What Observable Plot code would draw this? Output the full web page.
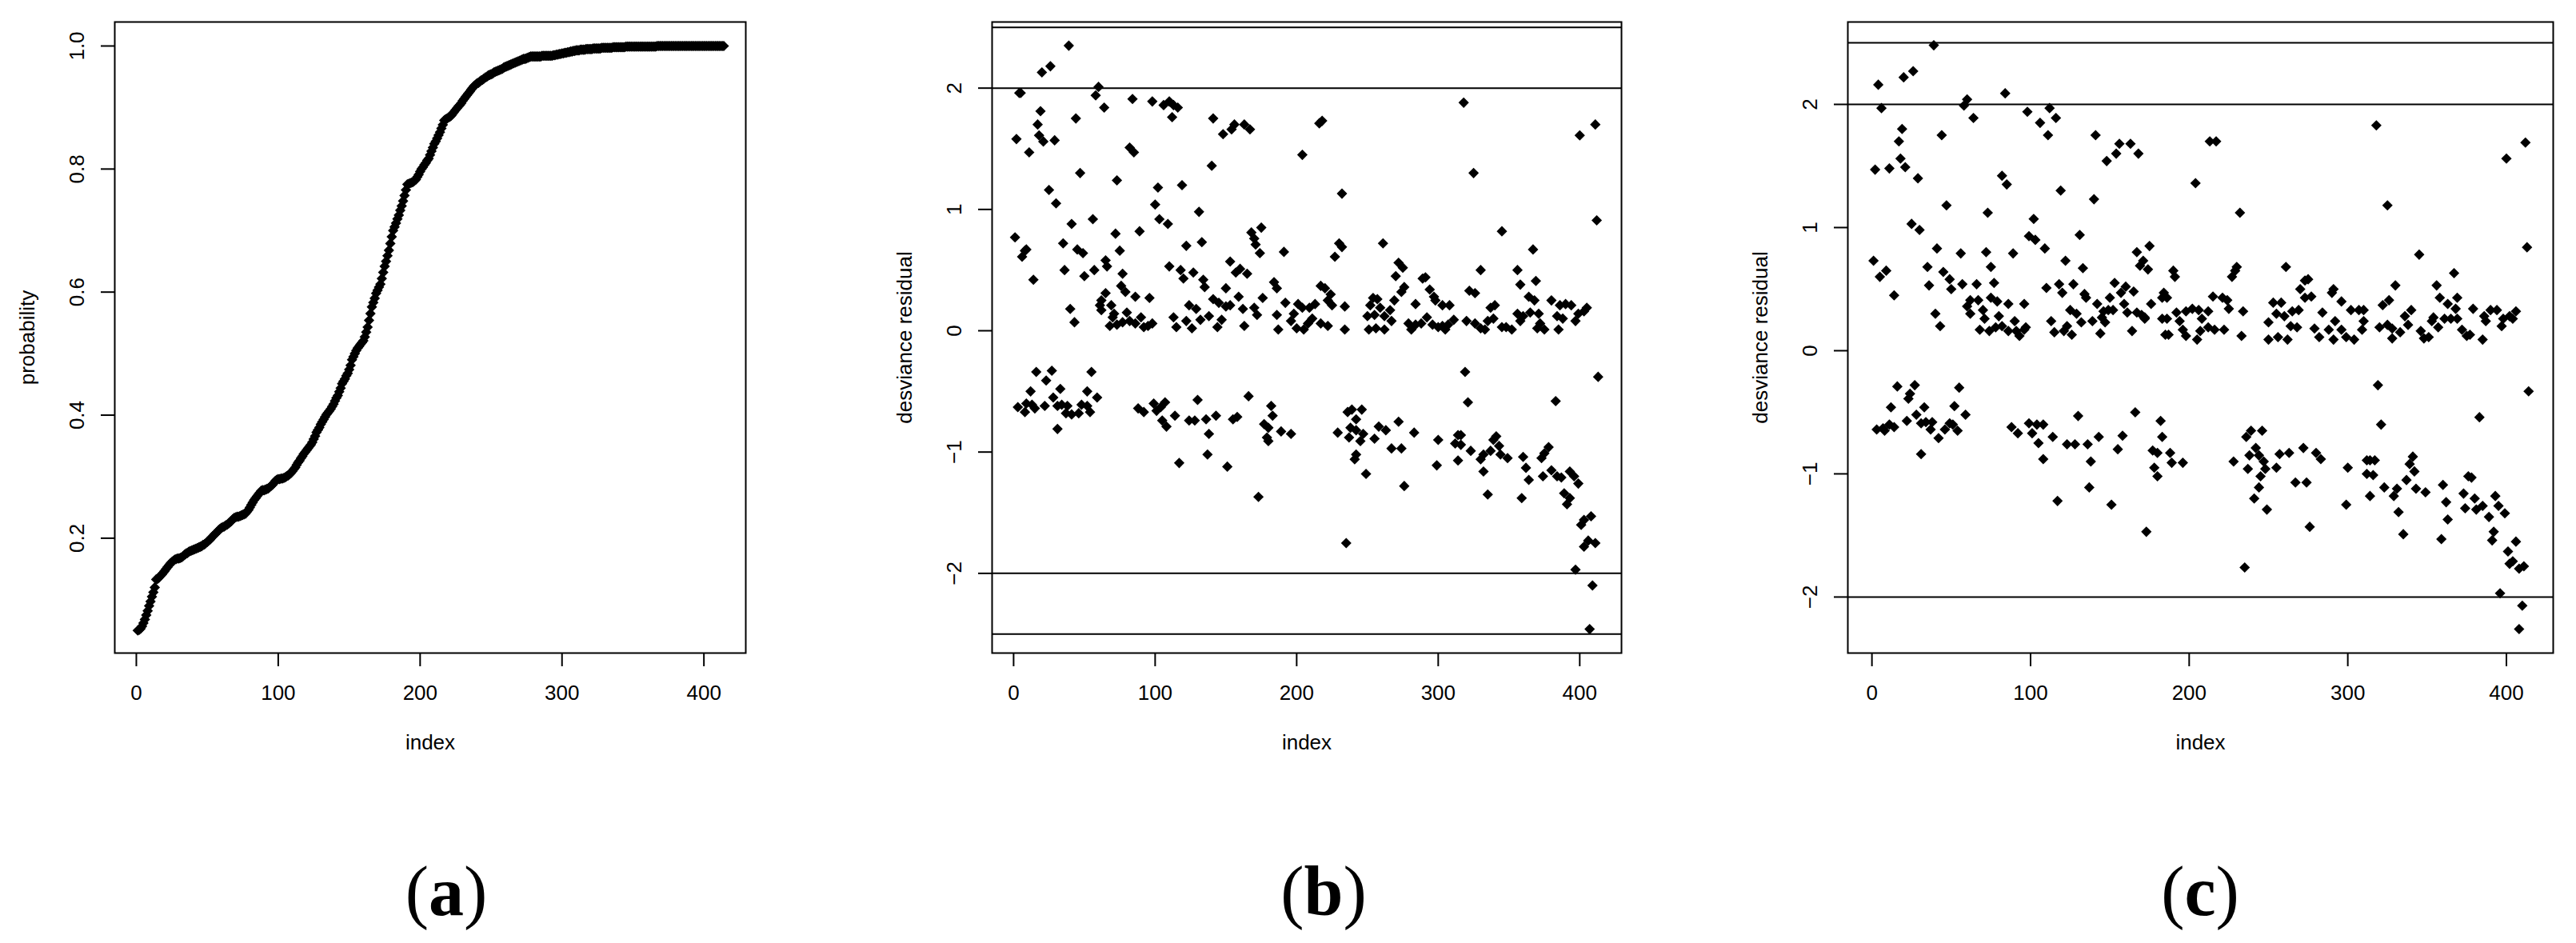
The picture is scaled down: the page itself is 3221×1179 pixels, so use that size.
<!DOCTYPE html>
<html><head><meta charset="utf-8">
<script src="https://cdn.jsdelivr.net/npm/d3@7"></script>
<script src="https://cdn.jsdelivr.net/npm/@observablehq/plot@0.6"></script>
<style>
html,body{margin:0;padding:0;background:#fff;}
#root{position:relative;width:3221px;height:1179px;overflow:hidden;background:#fff;}
#root svg{position:absolute;}
</style></head><body><div id="root"></div>
<script>
// ---------- data ----------
const probability = [
0.050,0.051,0.053,0.057,0.062,0.068,0.075,0.082,0.090,0.097,
0.105,0.112,0.120,0.133,0.134,0.136,0.139,0.141,0.144,0.147,
0.150,0.153,0.156,0.159,0.161,0.163,0.165,0.166,0.167,0.167,
0.168,0.169,0.171,0.173,0.175,0.176,0.178,0.179,0.180,0.181,
0.182,0.183,0.184,0.185,0.186,0.187,0.189,0.190,0.192,0.194,
0.196,0.198,0.201,0.203,0.206,0.208,0.210,0.213,0.215,0.217,
0.218,0.219,0.221,0.222,0.224,0.226,0.228,0.231,0.233,0.234,
0.235,0.235,0.236,0.237,0.238,0.239,0.240,0.243,0.246,0.250,
0.254,0.258,0.262,0.265,0.268,0.271,0.274,0.277,0.278,0.278,
0.279,0.280,0.281,0.283,0.285,0.287,0.290,0.293,0.295,0.296,
0.296,0.297,0.297,0.298,0.299,0.301,0.302,0.304,0.306,0.309,
0.312,0.315,0.319,0.323,0.326,0.330,0.333,0.337,0.340,0.343,
0.346,0.349,0.352,0.356,0.361,0.366,0.372,0.376,0.380,0.385,
0.389,0.393,0.397,0.401,0.404,0.407,0.410,0.414,0.418,0.423,
0.428,0.432,0.438,0.444,0.451,0.455,0.459,0.464,0.468,0.474,
0.481,0.490,0.495,0.500,0.505,0.509,0.512,0.515,0.518,0.521,
0.527,0.535,0.543,0.554,0.565,0.576,0.583,0.590,0.598,0.603,
0.608,0.613,0.622,0.632,0.642,0.650,0.659,0.668,0.679,0.690,
0.700,0.706,0.712,0.719,0.725,0.733,0.740,0.748,0.757,0.766,
0.775,0.776,0.777,0.778,0.779,0.781,0.783,0.787,0.791,0.796,
0.800,0.803,0.807,0.810,0.814,0.817,0.823,0.829,0.835,0.841,
0.845,0.850,0.855,0.860,0.866,0.872,0.879,0.881,0.882,0.884,
0.885,0.887,0.890,0.893,0.896,0.899,0.902,0.904,0.907,0.911,
0.914,0.917,0.920,0.923,0.926,0.929,0.932,0.935,0.937,0.939,
0.940,0.942,0.944,0.945,0.947,0.949,0.950,0.952,0.953,0.954,
0.955,0.957,0.958,0.959,0.960,0.961,0.962,0.963,0.965,0.966,
0.967,0.968,0.969,0.970,0.971,0.972,0.973,0.974,0.975,0.976,
0.977,0.978,0.979,0.979,0.980,0.981,0.982,0.983,0.983,0.983,
0.983,0.983,0.983,0.983,0.983,0.984,0.984,0.984,0.984,0.984,
0.984,0.984,0.984,0.985,0.985,0.986,0.986,0.987,0.987,0.988,
0.988,0.989,0.989,0.990,0.990,0.991,0.991,0.992,0.992,0.993,
0.993,0.993,0.994,0.994,0.994,0.994,0.995,0.995,0.995,0.995,
0.995,0.996,0.996,0.996,0.996,0.996,0.996,0.997,0.997,0.997,
0.997,0.997,0.997,0.997,0.997,0.998,0.998,0.998,0.998,0.998,
0.998,0.998,0.998,0.998,0.999,0.999,0.999,0.999,0.999,0.999,
0.999,0.999,0.999,0.999,0.999,0.999,0.999,0.999,0.999,0.999,
0.999,0.999,0.999,0.999,0.999,0.999,1.000,1.000,1.000,1.000,
1.000,1.000,1.000,1.000,1.000,1.000,1.000,1.000,1.000,1.000,
1.000,1.000,1.000,1.000,1.000,1.000,1.000,1.000,1.000,1.000,
1.000,1.000,1.000,1.000,1.000,1.000,1.000,1.000,1.000,1.000,
1.000,1.000,1.000,1.000,1.000,1.000,1.000,1.000,1.000,1.000,
1.000,1.000,1.000,1.000
];

// [index, deviance residual] — model (b)
const residualsB = [
[39,2.35],[26,2.18],[20,2.13],[5,1.96],[4,1.96],[60,2.01],[58,1.94],[84,1.91],[98,1.89],[106,1.86],[110,1.89],[113,1.86],[116,1.84],[112,1.76],
[64,1.84],[19,1.81],[44,1.75],[141,1.75],[148,1.62],[154,1.66],[156,1.70],[163,1.70],[167,1.66],[17,1.70],[18,1.61],[21,1.56],[2,1.58],[29,1.57],
[11,1.47],[82,1.51],[85,1.47],[204,1.45],[140,1.36],[47,1.30],[73,1.24],[102,1.18],[119,1.20],[25,1.16],[30,1.05],[100,1.04],[131,0.98],[41,0.88],
[56,0.92],[103,0.92],[109,0.88],[1,0.77],[8,0.66],[6,0.61],[9,0.67],[14,0.42],[35,0.72],[45,0.67],[49,0.64],[72,0.80],[89,0.82],[75,0.66],[122,0.70],
[133,0.73],[175,0.85],[168,0.81],[170,0.76],[171,0.71],[174,0.64],[191,0.65],[65,0.58],[66,0.53],[36,0.50],[57,0.50],[50,0.45],[77,0.47],[110,0.53],
[118,0.50],[120,0.43],[127,0.48],[153,0.57],[157,0.48],[160,0.51],[165,0.47],[134,0.42],[135,0.36],[150,0.35],[184,0.40],[186,0.35],[65,0.31],
[62,0.25],[61,0.21],[62,0.17],[76,0.37],[79,0.32],[86,0.28],[96,0.27],[40,0.18],[43,0.07],[69,0.21],[71,0.14],[70,0.11],[80,0.15],[68,0.04],[73,0.05],
[77,0.07],[82,0.08],[86,0.06],[90,0.11],[92,0.03],[95,0.04],[98,0.06],[113,0.11],[115,0.03],[122,0.08],[126,0.02],[124,0.21],[129,0.18],[132,0.09],
[138,0.12],[141,0.26],[145,0.23],[150,0.20],[153,0.21],[144,0.03],[147,0.09],[159,0.28],[162,0.18],[163,0.04],[170,0.19],[172,0.13],[176,0.27],
[186,0.13],[187,0.01],[192,0.23],[198,0.14],[201,0.22],[204,0.19],[196,0.08],[200,0.02],[205,0.01],[208,0.06],
[318,1.88],[216,1.71],[218,1.73],[411,1.70],[400,1.61],[325,1.30],[232,1.13],[412,0.91],[345,0.82],[230,0.72],[232,0.69],[261,0.72],[367,0.67],
[227,0.61],[272,0.56],[275,0.52],[270,0.45],[330,0.50],[356,0.50],[291,0.44],[289,0.43],[358,0.38],[369,0.41],[217,0.37],[220,0.35],[224,0.30],
[222,0.25],[225,0.21],[234,0.20],[234,0.01],[209,0.19],[213,0.22],[211,0.10],[217,0.06],[222,0.04],[254,0.27],[257,0.26],[252,0.21],[259,0.19],
[255,0.13],[250,0.12],[262,0.12],[266,0.17],[269,0.25],[267,0.08],[251,0.01],[256,0.02],[262,0.01],[276,0.36],[274,0.32],[284,0.22],[294,0.34],
[297,0.28],[298,0.25],[303,0.21],[308,0.21],[279,0.06],[284,0.05],[288,0.06],[292,0.11],[296,0.05],[300,0.03],[303,0.04],[307,0.05],[311,0.09],
[281,0.01],[305,0.01],[322,0.33],[326,0.31],[320,0.08],[326,0.06],[330,0.02],[333,0.01],[337,0.19],[340,0.21],[335,0.08],[339,0.10],[345,0.03],
[348,0.03],[352,0.01],[356,0.14],[360,0.12],[365,0.15],[371,0.14],[358,0.08],[364,0.28],[368,0.25],[370,0.02],[375,0.01],[372,0.06],[380,0.25],
[386,0.21],[390,0.22],[394,0.21],[384,0.12],[388,0.10],[385,0.01],[399,0.14],[403,0.16],[405,0.19],[397,0.08],
[3,-0.63],[8,-0.67],[9,-0.60],[13,-0.61],[15,-0.64],[12,-0.50],[16,-0.34],[27,-0.33],[23,-0.41],[28,-0.55],[33,-0.48],[22,-0.62],[31,-0.62],
[34,-0.61],[38,-0.62],[37,-0.68],[31,-0.81],[41,-0.69],[46,-0.68],[48,-0.61],[52,-0.62],[54,-0.67],[52,-0.50],[55,-0.34],[59,-0.55],[88,-0.64],
[92,-0.67],[99,-0.60],[104,-0.63],[107,-0.59],[101,-0.66],[105,-0.74],[108,-0.79],[114,-0.70],[117,-1.09],[124,-0.74],[128,-0.74],[130,-0.57],
[136,-0.73],[138,-0.85],[137,-1.02],[143,-0.70],[151,-1.12],[155,-0.73],[158,-0.71],[166,-0.54],[173,-1.37],[182,-0.62],[183,-0.70],[177,-0.77],
[180,-0.80],[179,-0.88],[180,-0.91],[189,-0.83],[196,-0.85],
[319,-0.34],[321,-0.59],[383,-0.58],[413,-0.38],[235,-1.75],[236,-0.67],[239,-0.65],[246,-0.65],[242,-0.73],[229,-0.84],[238,-0.80],[242,-0.82],
[247,-0.85],[237,-0.88],[255,-0.89],[258,-0.79],[263,-0.82],[245,-0.91],[242,-1.02],[241,-1.06],[249,-1.18],[272,-0.75],[283,-0.84],[267,-0.97],
[274,-0.97],[276,-1.28],[300,-0.90],[299,-1.11],[314,-0.86],[316,-0.86],[312,-0.93],[316,-0.94],[314,-1.07],[323,-0.99],[330,-1.06],[332,-1.02],
[332,-1.16],[337,-0.99],[341,-0.87],[339,-0.90],[343,-0.95],[335,-1.35],[344,-1.02],[349,-1.05],[360,-1.04],[362,-1.13],[364,-1.23],[359,-1.38],
[373,-1.05],[375,-1.01],[378,-0.96],[374,-1.20],[380,-1.15],[384,-1.20],[387,-1.21],[393,-1.16],[396,-1.20],[399,-1.26],[389,-1.34],[393,-1.38],
[391,-1.43],[401,-1.60],[403,-1.56],[408,-1.53],[403,-1.78],[406,-1.73],[411,-1.75],[397,-1.97],[409,-2.10],[407,-2.46]
];

// [index, deviance residual] — model (c)
const residualsC = [
[39,2.48],[26,2.27],[20,2.22],[4,2.16],[6,1.97],[60,2.04],[58,1.99],[84,2.09],[64,1.89],[98,1.94],[112,1.97],[116,1.89],[106,1.85],[111,1.75],
[44,1.75],[19,1.80],[17,1.70],[18,1.56],[2,1.47],[11,1.48],[21,1.49],[29,1.40],[141,1.75],[148,1.54],[154,1.60],[156,1.68],[163,1.68],[168,1.60],
[82,1.42],[85,1.35],[119,1.30],[140,1.23],[47,1.18],[73,1.12],[102,1.07],[25,1.03],[30,0.98],[99,0.93],[103,0.90],[131,0.94],[175,0.85],[167,0.80],
[171,0.73],[169,0.69],[174,0.66],[1,0.73],[9,0.65],[5,0.60],[14,0.45],[41,0.83],[56,0.79],[72,0.80],[89,0.79],[109,0.83],[122,0.73],[35,0.68],
[75,0.68],[133,0.67],[45,0.64],[49,0.58],[36,0.53],[50,0.50],[57,0.54],[66,0.54],[77,0.55],[110,0.51],[118,0.54],[120,0.47],[127,0.54],[134,0.46],
[135,0.43],[142,0.38],[153,0.55],[160,0.52],[157,0.47],[165,0.48],[150,0.43],[159,0.38],[161,0.31],[167,0.31],[172,0.27],[176,0.38],[184,0.47],
[183,0.43],[62,0.41],[60,0.36],[62,0.30],[67,0.41],[75,0.43],[79,0.40],[70,0.33],[71,0.26],[80,0.28],[86,0.38],[96,0.38],[90,0.24],[68,0.17],
[74,0.16],[78,0.19],[82,0.20],[86,0.16],[91,0.16],[93,0.12],[96,0.17],[97,0.19],[40,0.30],[43,0.20],[113,0.24],[125,0.33],[129,0.30],[115,0.15],
[123,0.20],[121,0.16],[126,0.13],[132,0.23],[139,0.24],[144,0.14],[146,0.32],[149,0.33],[152,0.33],[145,0.27],[147,0.23],[164,0.16],[170,0.29],
[172,0.26],[183,0.26],[185,0.13],
[318,1.83],[213,1.70],[217,1.70],[400,1.56],[204,1.36],[325,1.18],[232,1.12],[345,0.78],[190,0.65],[191,0.60],[230,0.68],[229,0.65],[227,0.60],
[261,0.68],[275,0.58],[273,0.57],[270,0.50],[291,0.50],[290,0.47],[367,0.63],[330,0.53],[356,0.53],[186,0.43],[215,0.44],[221,0.43],[224,0.41],
[225,0.34],[202,0.34],[206,0.33],[212,0.32],[198,0.32],[192,0.31],[234,0.32],[253,0.39],[258,0.39],[255,0.30],[260,0.28],[265,0.32],[269,0.33],
[250,0.23],[264,0.20],[268,0.19],[186,0.26],[194,0.24],[196,0.17],[198,0.12],[187,0.13],[208,0.26],[207,0.16],[212,0.19],[216,0.17],[222,0.17],
[205,0.09],[233,0.12],[250,0.09],[256,0.11],[262,0.09],[273,0.43],[277,0.44],[284,0.31],[296,0.40],[302,0.33],[307,0.33],[310,0.33],[279,0.18],
[282,0.11],[288,0.17],[292,0.24],[296,0.17],[299,0.11],[304,0.09],[310,0.24],[309,0.17],[291,0.09],[322,0.37],[326,0.41],[320,0.19],[325,0.21],
[328,0.18],[328,0.10],[333,0.15],[340,0.33],[336,0.28],[338,0.21],[358,0.43],[363,0.38],[369,0.43],[368,0.34],[354,0.27],[353,0.24],[357,0.19],
[361,0.26],[365,0.26],[369,0.26],[346,0.16],[348,0.10],[351,0.11],[372,0.17],[375,0.12],[377,0.13],[385,0.09],[379,0.34],[386,0.28],[390,0.33],
[394,0.33],[387,0.24],[398,0.26],[397,0.20],[402,0.28],[406,0.32],[404,0.26],[412,1.69],[413,0.84],
[3,-0.64],[7,-0.63],[8,-0.65],[11,-0.60],[14,-0.62],[12,-0.46],[16,-0.29],[27,-0.28],[24,-0.35],[23,-0.39],[22,-0.57],[28,-0.52],[33,-0.46],
[31,-0.59],[34,-0.58],[38,-0.58],[37,-0.64],[31,-0.84],[42,-0.71],[46,-0.64],[49,-0.59],[51,-0.60],[54,-0.65],[52,-0.45],[55,-0.30],[59,-0.52],
[88,-0.62],[92,-0.67],[99,-0.59],[104,-0.60],[108,-0.60],[101,-0.67],[105,-0.75],[108,-0.88],[114,-0.70],[117,-1.22],[123,-0.76],[128,-0.76],
[130,-0.53],[136,-0.76],[138,-0.90],[137,-1.11],[143,-0.70],[151,-1.25],[158,-0.69],[155,-0.80],[166,-0.50],[173,-1.47],[177,-0.81],[180,-0.83],
[178,-0.95],[180,-1.02],[182,-0.57],[183,-0.70],
[319,-0.28],[321,-0.60],[383,-0.54],[188,-0.83],[189,-0.91],[196,-0.91],[235,-1.76],[228,-0.90],[236,-0.70],[239,-0.65],[246,-0.65],[238,-0.85],
[242,-0.79],[244,-0.85],[237,-0.96],[247,-0.90],[248,-0.96],[245,-1.02],[244,-1.11],[241,-1.20],[249,-1.29],[255,-0.95],[257,-0.84],[263,-0.83],
[267,-1.07],[274,-1.07],[272,-0.79],[276,-1.43],[280,-0.83],[283,-0.88],[300,-0.95],[299,-1.25],[314,-0.89],[317,-0.89],[312,-0.89],[312,-1.00],
[316,-1.01],[314,-1.18],[323,-1.11],[329,-1.18],[331,-1.12],[332,-1.31],[335,-1.49],[337,-1.05],[341,-0.86],[339,-0.92],[342,-0.98],[343,-1.12],
[349,-1.15],[360,-1.09],[362,-1.23],[363,-1.37],[359,-1.53],[376,-1.02],[378,-1.03],[373,-1.16],[374,-1.28],[380,-1.20],[381,-1.29],[385,-1.26],
[389,-1.35],[393,-1.18],[395,-1.26],[399,-1.32],[392,-1.47],[391,-1.54],[401,-1.63],[402,-1.73],[396,-1.97],[414,-0.33],[406,-1.55],[404,-1.71],
[408,-1.77],[411,-1.75],[410,-2.07],[408,-2.26]
];

const xTicks = [0, 100, 200, 300, 400];
const probTicks = [0.2, 0.4, 0.6, 0.8, 1.0];
const probTickLabels = ["0.2", "0.4", "0.6", "0.8", "1.0"];
const residTicks = [-2, -1, 0, 1, 2];
const residTickLabels = ["\u22122", "\u22121", "0", "1", "2"];
const referenceLines = [-2.5, -2, 2, 2.5];
const xTitle = "index";
const yTitleA = "probability";
const yTitleBC = "desviance residual";
const captionLetters = ["a", "b", "c"];

// ---------- drawing ----------
const root = document.getElementById("root");
const FONT = "'Liberation Sans', Arial, Helvetica, sans-serif";

function panel(o) {
  const marks = [];
  if (o.rules) marks.push(Plot.ruleY(o.rules, {stroke: "black", strokeWidth: 2, clip: true}));
  marks.push(Plot.dot(o.data, {x: o.x, y: o.y, symbol: "diamond2", r: 5.9, fill: "black"}));
  marks.push(Plot.frame({stroke: "black", strokeWidth: 2}));
  marks.push(Plot.axisX({ticks: xTicks, tickSize: 17, tickFormat: () => "", label: null, strokeWidth: 2}));
  marks.push(Plot.axisY({ticks: o.yTicks, tickSize: 17, tickFormat: () => "", label: null, strokeWidth: 2}));
  marks.push(Plot.text(xTicks, {x: d => d, text: d => String(d), frameAnchor: "bottom", dy: 50, lineAnchor: "middle", fontSize: 26}));
  marks.push(Plot.text(o.yTicks, {y: d => d, text: (d, i) => o.yTickLabels[i], frameAnchor: "left", dx: -47, rotate: -90, textAnchor: "middle", lineAnchor: "middle", fontSize: 26}));
  marks.push(Plot.text([xTitle], {text: d => d, frameAnchor: "bottom", dy: 112, lineAnchor: "middle", fontSize: 26}));
  marks.push(Plot.text([o.yTitle], {text: d => d, frameAnchor: "left", dx: -109, rotate: -90, textAnchor: "middle", lineAnchor: "middle", fontSize: 26}));
  const svg = Plot.plot({
    width: o.width, height: 960,
    marginLeft: o.marginLeft, marginRight: o.marginRight, marginTop: 27, marginBottom: 144,
    x: {type: "linear", domain: [-15.2, 429.5]},
    y: {type: "linear", domain: o.yDomain},
    style: {fontFamily: FONT, fontSize: "26px", color: "black", background: "white", overflow: "visible"},
    marks
  });
  svg.style.left = o.left + "px";
  svg.style.top = "0px";
  root.appendChild(svg);
}

panel({data: probability, x: (d, i) => i + 1, y: d => d, yDomain: [0.0133, 1.039],
  yTicks: probTicks, yTickLabels: probTickLabels, yTitle: yTitleA,
  left: 0, width: 1000, marginLeft: 143, marginRight: 68});
panel({data: residualsB, x: d => d[0], y: d => d[1], yDomain: [-2.657, 2.545], rules: referenceLines,
  yTicks: residTicks, yTickLabels: residTickLabels, yTitle: yTitleBC,
  left: 1100, width: 1000, marginLeft: 140, marginRight: 73});
panel({data: residualsC, x: d => d[0], y: d => d[1], yDomain: [-2.455, 2.669], rules: referenceLines,
  yTicks: residTicks, yTickLabels: residTickLabels, yTitle: yTitleBC,
  left: 2200, width: 1021, marginLeft: 110, marginRight: 29});

// captions (a) (b) (c)
const capSvg = d3.select(root).append("svg")
  .attr("width", 3221).attr("height", 1179)
  .style("left", "0px").style("top", "0px").style("pointer-events", "none");
const capX = [558, 1655, 2751];
captionLetters.forEach((c, i) => {
  const t = capSvg.append("text")
    .attr("x", capX[i]).attr("y", 1144)
    .attr("text-anchor", "middle")
    .attr("font-family", "'Liberation Serif', 'Times New Roman', serif")
    .attr("font-size", 88).attr("fill", "black");
  t.append("tspan").text("(");
  t.append("tspan").attr("font-weight", "bold").text(c);
  t.append("tspan").text(")");
});
</script>
</body></html>
